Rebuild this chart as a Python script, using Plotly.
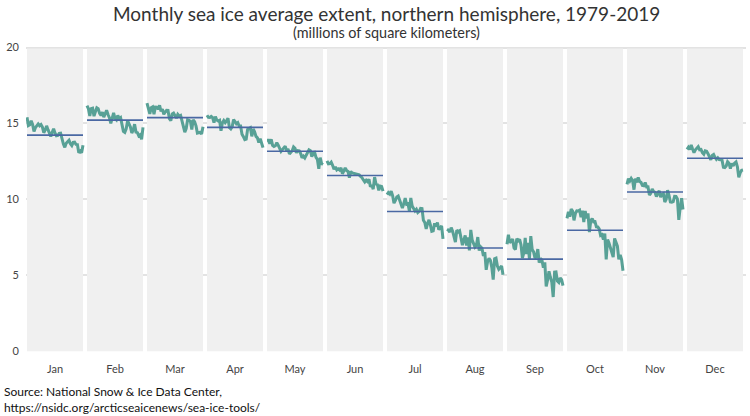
import plotly.graph_objects as go

years = list(range(1979, 2020))
months = ["Jan", "Feb", "Mar", "Apr", "May", "Jun", "Jul", "Aug", "Sep", "Oct", "Nov", "Dec"]

jan = [15.41,14.86,14.91,15.18,14.94,14.47,14.72,14.89,14.97,14.85,14.93,14.76,14.39,14.57,14.84,14.59,14.35,14.14,14.42,14.65,14.37,14.19,14.21,14.35,14.36,13.94,13.64,13.43,13.69,13.79,13.89,13.67,13.55,13.76,13.77,13.62,13.61,13.07,13.17,13.08,13.56]
feb = [16.18,15.97,15.49,15.97,16.00,15.48,15.77,16.03,15.97,15.66,15.53,15.74,15.42,15.63,15.87,15.59,15.38,15.01,15.41,15.69,15.34,15.24,15.53,15.31,15.38,14.99,14.48,14.41,14.65,15.18,14.97,14.77,14.37,14.57,14.95,14.43,14.39,14.18,14.25,13.95,14.74]
mar = [16.34,16.04,15.63,16.04,16.09,15.61,16.08,16.07,15.94,16.19,15.80,15.95,15.60,15.75,15.87,15.86,15.31,15.18,15.62,15.68,15.52,15.35,15.60,15.49,15.53,15.11,14.73,14.43,14.66,15.24,15.21,15.14,14.60,15.24,15.12,14.84,14.37,14.40,14.42,14.30,14.78]
apr = [15.54,15.40,15.39,15.46,15.38,15.05,15.45,15.22,15.16,15.21,14.52,15.04,15.19,15.06,15.19,15.34,14.73,14.64,14.79,15.26,15.13,14.98,15.05,14.83,14.83,14.29,14.13,13.94,13.97,14.61,14.66,14.72,14.15,14.64,14.45,14.15,14.05,13.74,13.99,13.71,13.41]
may = [13.90,13.90,13.67,13.96,13.56,13.48,13.53,13.73,13.57,13.31,13.16,13.28,13.42,13.51,13.21,13.33,12.99,13.14,13.20,13.46,13.37,13.07,13.21,13.19,13.03,12.73,12.85,12.73,12.89,13.11,13.26,13.21,12.81,13.09,13.11,12.77,12.63,12.02,12.75,12.35,12.29]
jun = [12.53,12.34,12.35,12.45,12.24,11.98,12.14,11.94,12.01,11.93,12.07,11.69,11.86,12.07,11.91,11.84,11.43,11.84,11.74,11.71,11.70,11.67,11.67,11.61,11.51,11.43,11.28,11.15,11.26,11.17,11.33,10.83,10.94,10.67,11.47,11.01,10.97,10.60,10.88,10.85,10.54]
jul = [10.31,10.45,10.35,10.54,10.25,9.75,9.93,10.16,10.22,9.99,9.63,9.43,9.72,10.09,9.68,9.71,9.22,10.09,9.56,9.36,9.24,9.35,9.13,9.21,9.41,9.40,8.63,8.48,8.05,8.42,8.65,8.32,7.89,7.92,8.42,8.22,8.47,8.01,8.12,8.25,7.40]
aug = [8.04,7.98,7.84,8.14,7.91,7.56,7.18,7.98,7.87,7.93,7.50,6.99,7.31,7.62,6.96,7.49,6.64,7.99,7.32,7.12,6.86,6.97,7.52,6.63,6.88,6.79,6.27,6.52,5.36,5.91,6.12,5.99,5.52,4.72,6.09,6.13,5.61,5.40,5.51,5.61,5.03]
sep = [7.05,7.67,7.14,7.30,7.39,6.81,6.70,7.41,7.28,7.37,7.01,6.14,6.47,7.47,6.40,7.14,6.08,7.58,6.69,6.54,6.12,6.25,6.73,5.83,6.12,5.98,5.50,5.86,4.27,4.69,5.26,4.87,4.56,3.57,5.21,5.22,4.62,4.53,4.82,4.71,4.32]
oct = [8.75,9.18,8.86,9.36,9.23,8.62,9.08,9.24,9.23,9.29,8.83,9.26,8.50,9.24,8.75,9.08,7.84,8.60,8.74,8.52,8.53,8.19,8.18,8.05,7.63,7.68,7.36,7.75,6.05,7.35,7.12,6.76,6.47,6.20,7.43,7.11,6.93,6.05,6.34,6.03,5.30]
nov = [10.99,11.36,11.21,11.38,11.24,10.64,11.37,11.12,11.45,11.18,11.12,10.91,10.89,11.11,10.82,10.83,10.29,10.40,10.68,10.52,10.47,10.18,10.41,10.56,10.15,10.33,10.38,9.82,10.00,10.61,10.26,9.83,9.81,9.85,10.20,10.19,10.03,8.65,9.46,10.08,9.33]
dec = [13.30,13.43,13.28,13.58,13.32,13.08,13.26,13.38,13.47,13.27,13.29,13.07,12.97,13.20,13.17,13.01,12.73,12.60,12.90,12.96,12.77,12.64,12.74,12.62,12.61,12.59,12.12,12.10,12.20,12.48,12.38,12.02,12.37,12.20,12.39,12.47,12.14,11.46,11.75,11.92,11.94]

series = [jan, feb, mar, apr, may, jun, jul, aug, sep, oct, nov, dec]
y_ticks = [0, 5, 10, 15, 20]

PW = 56 / 60  # panel width in month units
LINE_C = "rgb(88,161,150)"
MEAN_C = "rgb(74,104,163)"

fig = go.Figure()
shapes = []
n = len(years)
for i, vals in enumerate(series):
    xs = [i + PW * k / (n - 1) for k in range(n)]
    shapes.append(dict(type="rect", xref="x", yref="y", x0=i, x1=i + PW, y0=0, y1=19.93,
                       fillcolor="#f0f0f0", line=dict(width=0), layer="between"))
    fig.add_trace(go.Scatter(x=xs, y=vals, mode="lines",
                             line=dict(color=LINE_C, width=3), showlegend=False,
                             hoverinfo="x+y"))
    m = sum(vals) / len(vals)
    fig.add_trace(go.Scatter(x=[i, i + PW], y=[m, m], mode="lines",
                             line=dict(color=MEAN_C, width=1.6), showlegend=False))

W, H = 750, 416
ml, mr, mt, mb = 26, 4, 45.5, 64.2
ph = H - mt - mb

fig.update_layout(
    width=W, height=H,
    margin=dict(l=ml, r=mr, t=mt, b=mb, pad=0),
    paper_bgcolor="white", plot_bgcolor="white",
    font=dict(family="Lato, sans-serif", color="#444"),
    shapes=shapes,
    xaxis=dict(range=[-1/60, 11.9833], tickvals=[i + PW / 2 for i in range(12)],
               ticktext=months, showgrid=False, zeroline=False, showline=False,
               ticks="", ticklabelstandoff=9, tickfont=dict(size=11, color="#444")),
    yaxis=dict(range=[-0.05, 20.1], tickvals=y_ticks, showgrid=True,
               gridcolor="#e3e3e3", gridwidth=1.5, zeroline=False, showline=False,
               ticks="", ticklabelstandoff=6, tickfont=dict(size=11, color="#444")),
    annotations=[
        dict(text="Monthly sea ice average extent, northern hemisphere, 1979-2019",
             xref="paper", yref="paper", x=0.5, y=(H - mb - 13) / ph, xanchor="center",
             yanchor="middle", showarrow=False, font=dict(size=19, color="#333")),
        dict(text="(millions of square kilometers)",
             xref="paper", yref="paper", x=0.5, y=(H - mb - 32) / ph, xanchor="center",
             yanchor="middle", showarrow=False, font=dict(size=14.4, color="#333")),
        dict(text="Source: National Snow &amp; Ice Data Center,<br>https://nsidc.org/arcticseaicenews/sea-ice-tools/",
             xref="paper", yref="paper", x=(2 - ml) / (W - ml - mr), y=((H - mb) - 399) / ph,
             xanchor="left", yanchor="middle", align="left", showarrow=False,
             font=dict(size=12, color="#111")),
    ],
)

fig.write_html("out.html", config={"displayModeBar": False},
               post_script="document.body.style.margin='0';document.body.style.padding='0';document.body.style.overflow='hidden';")
